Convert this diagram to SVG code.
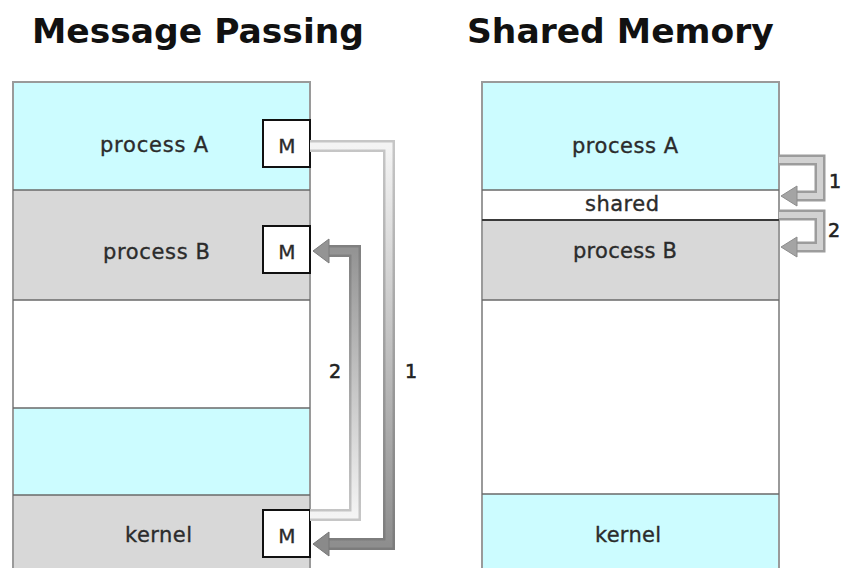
<svg xmlns="http://www.w3.org/2000/svg" width="842" height="568" viewBox="0 0 842 568">
  <defs>
    <style>
      .title { font-family: "DejaVu Sans", Verdana, sans-serif; font-weight: bold; font-size: 34.5px; fill: #111; }
      .lbl { font-family: "DejaVu Sans", "Lucida Grande", sans-serif; font-size: 21px; fill: #2b2b2b; stroke: #2b2b2b; stroke-width: 0.35; text-anchor: middle; }
      .m { font-family: "DejaVu Sans", sans-serif; font-size: 20px; fill: #2b2b2b; stroke: #2b2b2b; stroke-width: 0.35; text-anchor: middle; }
      .num { font-family: "DejaVu Sans", sans-serif; font-size: 19px; fill: #222; stroke: #222; stroke-width: 0.6; }
      .cyan { fill: #ccfcff; }
      .grey { fill: #d8d8d8; }
      .white { fill: #ffffff; }
      .div { stroke: #6a6a6a; stroke-width: 1.5; fill: none; }
      .frame { stroke: #9a9a9a; stroke-width: 2; fill: none; }
      .mbox { fill: #fff; stroke: #111; stroke-width: 2; }
      .pipe-o { fill: none; stroke-width: 12; stroke-linejoin: miter; }
      .pipe-i { fill: none; stroke-width: 7; stroke-linejoin: miter; }
      .short-o { fill: none; stroke: #9c9c9c; stroke-width: 11; }
      .short-i { fill: none; stroke: #d2d2d2; stroke-width: 6; }
      .short-h { fill: #a4a4a4; stroke: #8c8c8c; stroke-width: 1; }
    </style>
    <!-- pipe 1 fades from light (process A) to dark (kernel) -->
    <linearGradient id="g1o" gradientUnits="userSpaceOnUse" x1="0" y1="146" x2="0" y2="544">
      <stop offset="0" stop-color="#c6c6c6"/>
      <stop offset="1" stop-color="#7c7c7c"/>
    </linearGradient>
    <linearGradient id="g1i" gradientUnits="userSpaceOnUse" x1="0" y1="146" x2="0" y2="544">
      <stop offset="0" stop-color="#f4f4f4"/>
      <stop offset="1" stop-color="#8e8e8e"/>
    </linearGradient>
    <!-- pipe 2 fades from light (kernel) to dark (process B) -->
    <linearGradient id="g2o" gradientUnits="userSpaceOnUse" x1="0" y1="515" x2="0" y2="251">
      <stop offset="0" stop-color="#c6c6c6"/>
      <stop offset="1" stop-color="#808080"/>
    </linearGradient>
    <linearGradient id="g2i" gradientUnits="userSpaceOnUse" x1="0" y1="515" x2="0" y2="251">
      <stop offset="0" stop-color="#f4f4f4"/>
      <stop offset="1" stop-color="#949494"/>
    </linearGradient>
  </defs>

  <rect width="842" height="568" fill="#ffffff"/>

  <text class="title" x="32" y="43">Message Passing</text>
  <text class="title" x="467" y="43">Shared Memory</text>

  <!-- Message passing memory column -->
  <g id="mp-process-a">
    <rect class="cyan" x="13" y="82" width="297" height="108"/>
    <text class="lbl" x="154" y="152" textLength="108">process A</text>
  </g>
  <g id="mp-process-b">
    <rect class="grey" x="13" y="190" width="297" height="110"/>
    <text class="lbl" x="156.5" y="259" textLength="107">process B</text>
  </g>
  <g id="mp-free">
    <rect class="white" x="13" y="300" width="297" height="108"/>
  </g>
  <g id="mp-region">
    <rect class="cyan" x="13" y="408" width="297" height="87"/>
  </g>
  <g id="mp-kernel">
    <rect class="grey" x="13" y="495" width="297" height="75"/>
    <text class="lbl" x="158.5" y="542" textLength="67">kernel</text>
  </g>
  <g id="mp-lines">
    <path class="frame" d="M13,570 V82 H310 V570"/>
    <path class="div" d="M13,190 H310 M13,300 H310 M13,408 H310 M13,495 H310"/>
  </g>
  <g id="mp-msg-a">
    <rect class="mbox" x="263" y="120" width="47" height="47"/>
    <text class="m" x="287" y="153">M</text>
  </g>
  <g id="mp-msg-b">
    <rect class="mbox" x="263" y="226" width="47" height="47"/>
    <text class="m" x="287" y="259">M</text>
  </g>
  <g id="mp-msg-kernel">
    <rect class="mbox" x="263" y="510" width="47" height="47"/>
    <text class="m" x="287" y="543">M</text>
  </g>

  <!-- Shared memory column -->
  <g id="sm-process-a">
    <rect class="cyan" x="482" y="82" width="297" height="108"/>
    <text class="lbl" x="625" y="153" textLength="106">process A</text>
  </g>
  <g id="sm-shared">
    <rect class="white" x="482" y="190" width="297" height="30"/>
    <text class="lbl" x="622" y="211" textLength="74">shared</text>
  </g>
  <g id="sm-process-b">
    <rect class="grey" x="482" y="220" width="297" height="80"/>
    <text class="lbl" x="625" y="258" textLength="104">process B</text>
  </g>
  <g id="sm-free">
    <rect class="white" x="482" y="300" width="297" height="194"/>
  </g>
  <g id="sm-kernel">
    <rect class="cyan" x="482" y="494" width="297" height="76"/>
    <text class="lbl" x="628" y="542" textLength="66">kernel</text>
  </g>
  <g id="sm-lines">
    <path class="frame" d="M482,570 V82 H779 V570"/>
    <path class="div" d="M482,190 H779 M482,300 H779 M482,494 H779"/>
    <path d="M482,220 H779" stroke="#3a3a3a" stroke-width="2" fill="none"/>
  </g>

  <!-- Connectors -->
  <g id="connectors">
    <!-- 1: process A to kernel -->
    <path class="pipe-o" stroke="url(#g1o)" d="M310,146 H389 V544 H327"/>
    <path class="pipe-i" stroke="url(#g1i)" d="M310,146 H389 V544 H327"/>
    <polygon points="313,544 329,532 329,556" fill="#8a8a8a" stroke="#777" stroke-width="1"/>
    <!-- 2: kernel to process B -->
    <path class="pipe-o" stroke="url(#g2o)" d="M310,515 H355 V251 H327"/>
    <path class="pipe-i" stroke="url(#g2i)" d="M310,515 H355 V251 H327"/>
    <polygon points="313,251 329,239 329,263" fill="#949494" stroke="#7c7c7c" stroke-width="1"/>

    <!-- shared memory: write and read -->
    <path class="short-o" d="M779,160 H820 V196 H796"/>
    <path class="short-i" d="M779,160 H820 V196 H796"/>
    <polygon class="short-h" points="781,196 797,186 797,206"/>
    <path class="short-o" d="M779,215 H820 V247 H796"/>
    <path class="short-i" d="M779,215 H820 V247 H796"/>
    <polygon class="short-h" points="781,247 797,237 797,257"/>
  </g>

  <g id="labels">
    <text class="num" x="329" y="378">2</text>
    <text class="num" x="405" y="378">1</text>
    <text class="num" x="829" y="188">1</text>
    <text class="num" x="828" y="237">2</text>
  </g>
</svg>
